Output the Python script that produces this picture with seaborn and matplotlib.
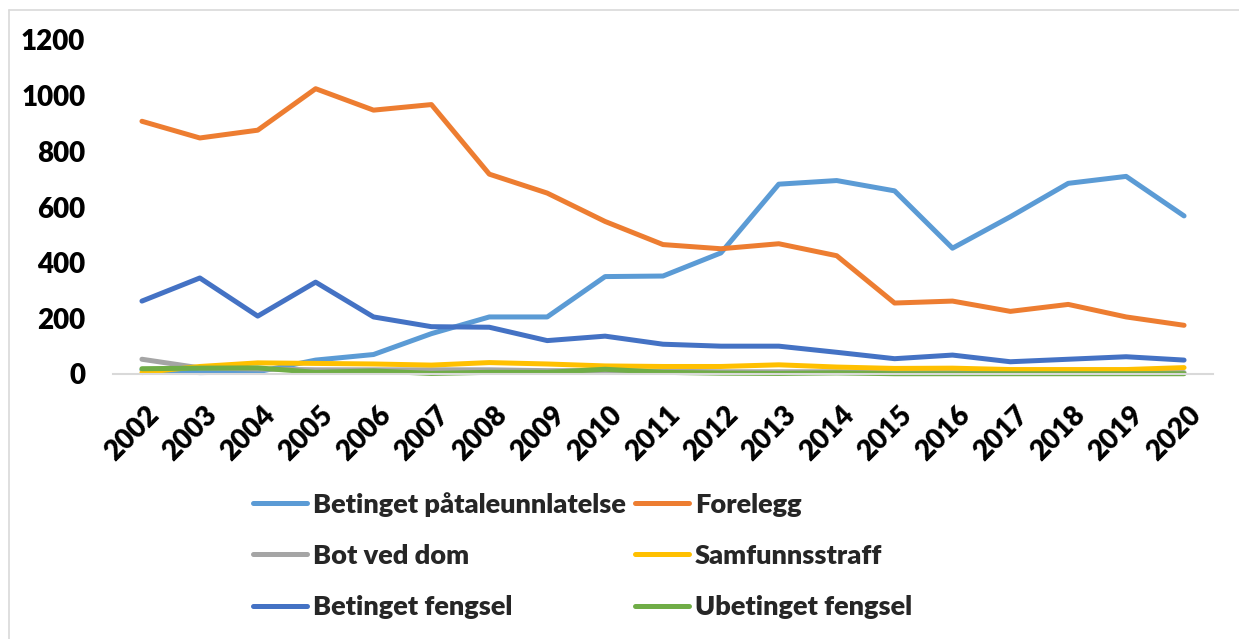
import pandas as pd
import seaborn as sns
import matplotlib.pyplot as plt
import matplotlib.transforms as mtransforms
from matplotlib.lines import Line2D

years = list(range(2002, 2021))
series_names = ['Betinget påtaleunnlatelse', 'Forelegg', 'Bot ved dom',
                'Samfunnsstraff', 'Betinget fengsel', 'Ubetinget fengsel']
betinget_pataleunnlatelse = [15, 5, 8, 50, 70, 145, 205, 205, 350, 352, 435, 682, 695, 658, 452, 565, 685, 710, 568]
forelegg = [908, 848, 876, 1025, 948, 968, 718, 650, 548, 465, 450, 468, 425, 255, 262, 225, 250, 205, 175]
bot_ved_dom = [53, 22, 18, 15, 15, 15, 15, 12, 12, 10, 8, 8, 8, 5, 5, 5, 5, 5, 5]
samfunnsstraff = [5, 27, 40, 38, 36, 32, 41, 36, 29, 27, 27, 33, 25, 20, 21, 16, 16, 16, 23]
betinget_fengsel = [262, 345, 208, 330, 205, 170, 168, 120, 136, 107, 100, 100, 78, 55, 68, 44, 53, 62, 50]
ubetinget_fengsel = [19, 21, 22, 6, 11, 2, 6, 6, 17, 6, 3, 2, 4, 1, 1, 1, 1, 1, 1]
colors = ['#5B9BD5', '#ED7D31', '#A5A5A5', '#FFC000', '#4472C4', '#70AD47']

sns.set_theme(style='white')
plt.rcParams['font.family'] = ['Lato', 'DejaVu Sans']
plt.rcParams['font.weight'] = 'heavy'

values = [betinget_pataleunnlatelse, forelegg, bot_ved_dom,
          samfunnsstraff, betinget_fengsel, ubetinget_fengsel]
df = pd.DataFrame({n: v for n, v in zip(series_names, values)})
df['x'] = range(len(years))
long = df.melt(id_vars='x', var_name='serie', value_name='antall')

fig = plt.figure(figsize=(12.39, 6.39), dpi=100)
ax = fig.add_axes([113 / 1239, 1 - 374 / 639, 1100 / 1239, 334 / 639])

sns.lineplot(data=long, x='x', y='antall', hue='serie', hue_order=series_names,
             palette=dict(zip(series_names, colors)), linewidth=3.6,
             legend=False, ax=ax)
for ln in ax.lines:
    ln.set_clip_on(False)
    ln.set_solid_capstyle('round')
    ln.set_solid_joinstyle('round')

ax.set_xlim(-0.5, len(years) - 0.5)
ax.set_ylim(0, 1200)
ax.set_yticks(range(0, 1201, 200))
ax.set_xticks(range(len(years)))
ax.set_xticklabels([str(y) for y in years])
ax.set_xlabel('')
ax.set_ylabel('')
for s in ['top', 'left', 'right']:
    ax.spines[s].set_visible(False)
ax.spines['bottom'].set_color('#D9D9D9')
ax.spines['bottom'].set_linewidth(1.5)
ax.tick_params(axis='y', length=0, pad=20, labelsize=20)
ax.tick_params(axis='x', length=0, pad=20, labelsize=20)
offset = mtransforms.ScaledTranslation(4 / 100, 0, fig.dpi_scale_trans)
for lab in ax.get_xticklabels():
    lab.set_rotation(45)
    lab.set_ha('right')
    lab.set_va('top')
    lab.set_rotation_mode('anchor')
    lab.set_transform(lab.get_transform() + offset)
for lab in ax.get_xticklabels() + ax.get_yticklabels():
    lab.set_fontweight('heavy')
    lab.set_color('black')

handles = [Line2D([], [], color=c, linewidth=3.6, solid_capstyle='round') for c in colors]
order = [0, 2, 4, 1, 3, 5]
fig.legend([handles[i] for i in order], [series_names[i] for i in order],
           ncol=2, loc='upper left', bbox_to_anchor=(253 / 1239, 1 - 492 / 639),
           frameon=False, prop={'family': 'Lato', 'weight': 'heavy', 'size': 19.5},
           handlelength=2.0, handletextpad=0.2, columnspacing=0.36,
           labelspacing=1.0, borderpad=0, borderaxespad=0)

# thin grey frame of the chart area (top and left edges only)
fig.add_artist(Line2D([9 / 1239, 1], [1 - 10 / 639] * 2, color='#D9D9D9', lw=1.2,
                      transform=fig.transFigure))
fig.add_artist(Line2D([9 / 1239] * 2, [0, 1 - 10 / 639], color='#D9D9D9', lw=1.2,
                      transform=fig.transFigure))

fig.savefig('out.png', dpi=100, facecolor='white')
